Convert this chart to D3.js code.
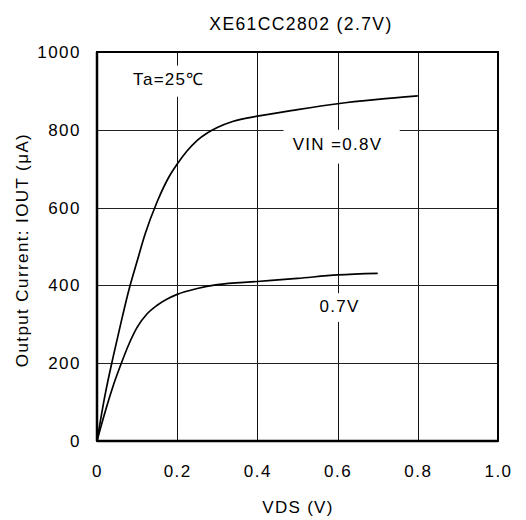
<!DOCTYPE html>
<html>
<head>
<meta charset="utf-8">
<script src="https://cdn.jsdelivr.net/npm/d3@7"></script>
<style>
    body { margin: 0; background: #fff; }
    text { font-family: Arial, "Liberation Sans", sans-serif; fill: #000; }
</style>
</head>
<body>
<div id="chart"></div>
<script>
// values (VDS in V, IOUT in uA)
let vin08_vds = [0, 0.02, 0.04, 0.06, 0.08, 0.10, 0.12, 0.15, 0.18, 0.20, 0.225, 0.25, 0.275, 0.30, 0.34, 0.40, 0.50, 0.60, 0.70, 0.80];
let vin08_iout = [0, 118, 215, 305, 390, 462, 532, 615, 680, 712, 746, 773, 792, 806, 822, 835, 852, 867, 878, 887];

let vin07_vds = [0, 0.02, 0.04, 0.06, 0.08, 0.10, 0.125, 0.15, 0.175, 0.20, 0.25, 0.30, 0.40, 0.50, 0.60, 0.70];
let vin07_iout = [0, 74, 141, 198, 250, 292, 327, 349, 365, 377, 392, 402, 410, 418, 427, 431];

let xTicks = [0, 0.2, 0.4, 0.6, 0.8, 1.0];
let yTicks = [0, 200, 400, 600, 800, 1000];
let xGrid = [0.2, 0.4, 0.6, 0.8];
let yGrid = [200, 400, 600, 800];

let title = "XE61CC2802 (2.7V)";
let xTitle = "VDS  (V)";
let yTitle = "Output Current: IOUT (μA)";

var W = 526, H = 520;
var margin = {left: 97, top: 52, right: 28, bottom: 79};
var pw = W - margin.left - margin.right;
var ph = H - margin.top - margin.bottom;

var svg = d3.select("#chart").append("svg")
    .attr("width", W)
    .attr("height", H);

var x = d3.scaleLinear().domain([0, 1]).range([0, pw]);
var y = d3.scaleLinear().domain([0, 1000]).range([ph, 0]);

var g = svg.append("g").attr("transform", "translate(" + margin.left + "," + margin.top + ")");

// grid
g.selectAll(".vgrid").data(xGrid).enter().append("line")
    .attr("class", "vgrid")
    .attr("x1", d => Math.round(x(d)) + 0.5).attr("x2", d => Math.round(x(d)) + 0.5)
    .attr("y1", 0).attr("y2", ph)
    .style("stroke", "#111").style("stroke-width", 1);

g.selectAll(".hgrid").data(yGrid).enter().append("line")
    .attr("class", "hgrid")
    .attr("y1", d => Math.round(y(d)) + 0.5).attr("y2", d => Math.round(y(d)) + 0.5)
    .attr("x1", 0).attr("x2", pw)
    .style("stroke", "#222").style("stroke-width", 1);

// labels inside the plot sit on white boxes that cut the grid
let notes = [
    {text: "Ta=25℃", vx: 0.09, vy: 915, box: [0.07, 0.29, 965, 885]},
    {text: "VIN =0.8V", vx: 0.488, vy: 747, box: [0.465, 0.755, 800, 713]},
    {text: "0.7V", vx: 0.555, vy: 331, box: [0.542, 0.67, 380, 306]}
];

g.selectAll(".notebox").data(notes).enter().append("rect")
    .attr("class", "notebox")
    .attr("x", d => x(d.box[0]))
    .attr("width", d => x(d.box[1]) - x(d.box[0]))
    .attr("y", d => y(d.box[2]))
    .attr("height", d => y(d.box[3]) - y(d.box[2]))
    .style("fill", "#fff");

// curves
var line = d3.line()
    .x(d => x(d[0]))
    .y(d => y(d[1]))
    .curve(d3.curveMonotoneX);

let series = [
    d3.zip(vin08_vds, vin08_iout),
    d3.zip(vin07_vds, vin07_iout)
];

g.selectAll(".curve").data(series).enter().append("path")
    .attr("class", "curve")
    .attr("d", line)
    .style("fill", "none")
    .style("stroke", "#000")
    .style("stroke-width", 1.7);

// frame
g.append("rect")
    .attr("x", 0).attr("y", 0)
    .attr("width", pw).attr("height", ph)
    .style("fill", "none").style("stroke", "#000").style("stroke-width", 2);
g.append("line").attr("x1", 0).attr("x2", 0).attr("y1", 0).attr("y2", ph)
    .style("stroke", "#000").style("stroke-width", 2.5);
g.append("line").attr("x1", 0).attr("x2", pw).attr("y1", ph).attr("y2", ph)
    .style("stroke", "#000").style("stroke-width", 2.5);

g.selectAll(".note").data(notes).enter().append("text")
    .attr("class", "note")
    .attr("x", d => x(d.vx))
    .attr("y", d => y(d.vy))
    .style("font-size", "17px")
    .style("letter-spacing", "1.3px")
    .text(d => d.text);

// axes
var xAxis = d3.axisBottom(x)
    .tickValues(xTicks)
    .tickSize(0)
    .tickPadding(24)
    .tickFormat(d => d === 0 ? "0" : d.toFixed(1));

var yAxis = d3.axisLeft(y)
    .tickValues(yTicks)
    .tickSize(0)
    .tickPadding(16)
    .tickFormat(d3.format("d"));

var gx = g.append("g").attr("transform", "translate(0," + ph + ")").call(xAxis);
var gy = g.append("g").call(yAxis);

[gx, gy].forEach(function (a) {
    a.select(".domain").remove();
    a.selectAll("text")
        .style("font-family", "Arial, 'Liberation Sans', sans-serif")
        .style("font-size", "17px")
        .style("letter-spacing", "1.5px")
        .style("fill", "#000");
});

// titles
svg.append("text")
    .attr("x", 301).attr("y", 30)
    .attr("text-anchor", "middle")
    .style("font-size", "17.5px")
    .style("letter-spacing", "1.4px")
    .text(title);

svg.append("text")
    .attr("x", 298).attr("y", 513)
    .attr("text-anchor", "middle")
    .style("font-size", "17px")
    .style("letter-spacing", "1.3px")
    .text(xTitle);

svg.append("text")
    .attr("transform", "translate(28,250) rotate(-90)")
    .attr("text-anchor", "middle")
    .style("font-size", "17px")
    .style("letter-spacing", "1.4px")
    .text(yTitle);
</script>
</body>
</html>
